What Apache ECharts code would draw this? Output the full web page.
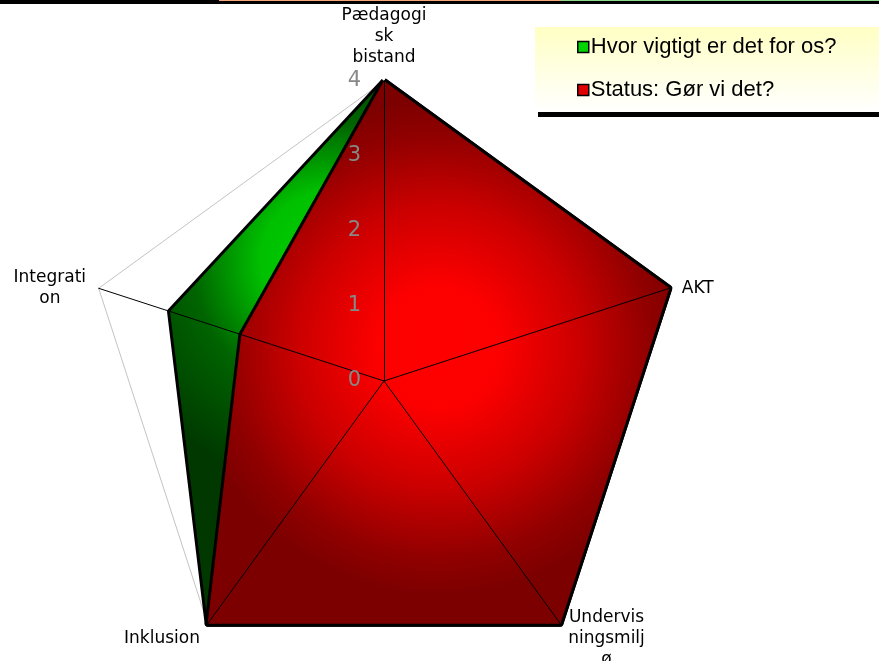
<!DOCTYPE html>
<html>
<head>
<meta charset="utf-8">
<script src="https://cdn.jsdelivr.net/npm/echarts@6/dist/echarts.min.js"></script>
<style>
  html, body { margin: 0; padding: 0; background: #fff; }
  #main { width: 879px; height: 661px; }
</style>
</head>
<body>
<div id="main"></div>
<script>
// indicators go counter-clockwise from the top
var categories = ['Pædagogi\nsk\nbistand', 'Integrati\non', 'Inklusion', 'Undervis\nningsmilj\nø', 'AKT'];
var maxValue = 4;
var seriesNames = ['Hvor vigtigt er det for os?', 'Status: Gør vi det?'];
var importanceValues = [4, 3, 4, 4, 4];
var statusValues = [4, 2, 4, 4, 4];
var tickCount = 4;

var chartDom = document.getElementById('main');
var myChart = echarts.init(chartDom);

var ctx = document.createElement('canvas').getContext('2d');
ctx.font = '17px "DejaVu Sans"';

// each name gets a box as wide as its longest line so the lines centre
var nameRich = {};
var indicators = categories.map(function (c, i) {
  var w = 0;
  c.split('\n').forEach(function (line) { w = Math.max(w, ctx.measureText(line).width); });
  nameRich['n' + i] = {
    width: Math.ceil(w),
    align: 'center',
    color: '#000',
    fontFamily: 'DejaVu Sans',
    fontSize: 17,
    lineHeight: 21
  };
  return { name: c, max: maxValue };
});

var center = [384, 381];
var radius = 300;

var redFill = new echarts.graphic.RadialGradient(0.5, 0.49, 0.54, [
  { offset: 0, color: '#ff0000' },
  { offset: 0.25, color: '#fc0000' },
  { offset: 0.56, color: '#cc0000' },
  { offset: 0.85, color: '#900000' },
  { offset: 1, color: '#7c0000' }
]);
var greenFill = new echarts.graphic.RadialGradient(0.32, 0.33, 0.46, [
  { offset: 0, color: '#00d000' },
  { offset: 0.3, color: '#00c000' },
  { offset: 0.6, color: '#006400' },
  { offset: 1, color: '#003800' }
]);

myChart.setOption({
  backgroundColor: '#fff',
  animation: false,
  graphic: [
    { type: 'rect', shape: { x: 0, y: 0, width: 879, height: 4 }, style: { fill: '#000' } },
    { type: 'rect', shape: { x: 219, y: 0, width: 342, height: 1 }, style: { fill: '#f4a878' } },
    { type: 'rect', shape: { x: 561, y: 0, width: 318, height: 1 }, style: { fill: '#8cd88c' } }
  ],
  legend: {
    orient: 'vertical',
    left: 535,
    top: 27,
    padding: [8, 80, 10, 42],
    itemGap: 19,
    itemWidth: 11,
    itemHeight: 11,
    icon: 'rect',
    backgroundColor: new echarts.graphic.LinearGradient(0, 0, 0, 1, [
      { offset: 0, color: '#ffffc4' },
      { offset: 1, color: '#ffffff' }
    ]),
    shadowColor: '#000',
    shadowBlur: 0,
    shadowOffsetX: 3,
    shadowOffsetY: 5,
    textStyle: { fontFamily: 'Liberation Sans', fontSize: 22, color: '#000', lineHeight: 24, padding: [0, 0, 0, -3] },
    data: [
      { name: seriesNames[0], itemStyle: { color: '#00d400', borderColor: '#000', borderWidth: 1.5 } },
      { name: seriesNames[1], itemStyle: { color: '#e00000', borderColor: '#000', borderWidth: 1.5 } }
    ]
  },
  radar: [
    {
      // outer frame, under the series
      center: center,
      radius: radius,
      shape: 'polygon',
      splitNumber: 1,
      indicator: indicators,
      axisName: { show: false },
      axisLine: { show: false },
      splitLine: { lineStyle: { color: '#c4c4c4', width: 1 } },
      splitArea: { show: false },
      axisLabel: { show: false }
    },
    {
      // spokes and names, drawn over the fills
      z: 5,
      center: center,
      radius: radius,
      shape: 'polygon',
      splitNumber: 1,
      indicator: indicators,
      nameGap: 13,
      axisName: {
        color: '#000', fontFamily: 'DejaVu Sans', fontSize: 17, lineHeight: 21,
        padding: [8, 0, 0, 0],
        formatter: function (name) {
          var i = categories.indexOf(name);
          return name.split('\n').map(function (line) { return '{n' + i + '|' + line + '}'; }).join('\n');
        },
        rich: nameRich
      },
      axisLine: { lineStyle: { color: '#000', width: 1 } },
      splitLine: { show: false },
      splitArea: { show: false },
      axisLabel: { show: false }
    },
    {
      // value labels on the top axis
      z: 6,
      center: center,
      radius: radius,
      shape: 'polygon',
      splitNumber: tickCount,
      indicator: [{ name: '', max: maxValue, min: 0 }],
      axisName: { show: false },
      axisLine: { show: false },
      axisTick: { show: false },
      splitLine: { show: false },
      splitArea: { show: false },
      axisLabel: { show: true, color: '#888', fontFamily: 'DejaVu Sans', fontSize: 21, margin: 23 }
    }
  ],
  series: [
    {
      name: seriesNames[0],
      type: 'radar',
      radarIndex: 0,
      z: 2,
      symbol: 'none',
      lineStyle: { color: '#000', width: 6 },
      areaStyle: { color: greenFill, opacity: 1 },
      itemStyle: { color: '#00d400' },
      data: [{ value: importanceValues, name: seriesNames[0] }]
    },
    {
      name: seriesNames[1],
      type: 'radar',
      radarIndex: 0,
      z: 3,
      symbol: 'none',
      lineStyle: { color: '#000', width: 6 },
      areaStyle: { color: redFill, opacity: 1 },
      itemStyle: { color: '#e00000' },
      data: [{ value: statusValues, name: seriesNames[1] }]
    }
  ]
});
</script>
</body>
</html>
